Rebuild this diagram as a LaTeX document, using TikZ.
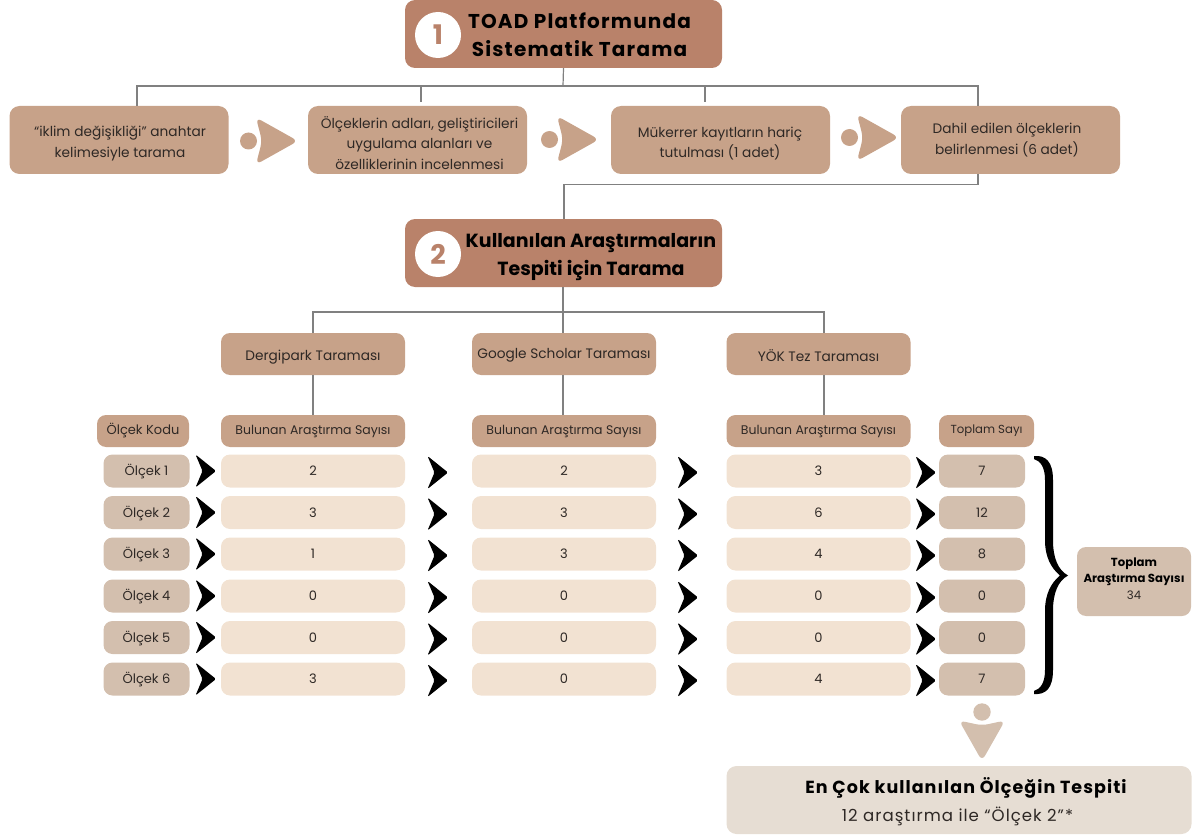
\documentclass[tikz,border=0pt]{standalone}
\usepackage{fontspec}
\setmainfont{Poppins}
\definecolor{hdr}{HTML}{B9826A}
\definecolor{stp}{HTML}{C7A289}
\definecolor{row}{HTML}{F2E2D2}
\definecolor{cod}{HTML}{D3BFAE}
\definecolor{fin}{HTML}{E6DDD3}
\definecolor{lin}{HTML}{808080}
\definecolor{txt}{HTML}{2E2825}
\newfontfamily\headfont[LetterSpace=6]{Poppins Bold}
\newfontfamily\headtight{Poppins Bold}
\newfontfamily\bodyspaced[LetterSpace=6]{Poppins}
\newcommand{\lowertext}[2]{\raisebox{-#1}[\height][\depth]{#2}}
\tikzset{
 x=1pt,y=-1pt,
 hdrbox/.style={fill=hdr,rounded corners=10pt,minimum width=317pt,minimum height=68pt,inner sep=0pt},
 stepbox/.style={fill=stp,rounded corners=10pt,minimum width=219pt,minimum height=68pt,inner sep=0pt},
 steptext/.style={inner sep=0pt,align=center,font=\fontsize{13.7}{20.5}\selectfont,text=txt},
 subbox/.style={fill=stp,rounded corners=9pt,minimum width=184pt,minimum height=42pt,inner sep=0pt,font=\fontsize{13.7}{15}\selectfont,text=txt},
 colhead/.style={fill=stp,rounded corners=9pt,minimum width=184pt,minimum height=32pt,inner sep=0pt,font=\fontsize{12.5}{14}\selectfont,text=txt},
 cell/.style={fill=row,rounded corners=9pt,minimum width=184pt,minimum height=33pt,inner sep=0pt,text height=9pt,text depth=0pt,font=\fontsize{13}{14}\selectfont,text=txt},
 codecell/.style={fill=cod,rounded corners=9pt,minimum width=86pt,minimum height=33pt,inner sep=0pt,text height=9pt,text depth=0pt,font=\fontsize{13}{14}\selectfont,text=txt},
 conn/.style={draw=lin,line width=1.2pt},
 numc/.style={circle,fill=white,minimum size=46pt,inner sep=0pt,font=\fontsize{27}{27}\selectfont\bfseries,text=hdr},
 chev/.style={fill=black,rounded corners=1.5pt},
 playarr/.style={fill=stp},
}
\begin{document}
\begin{tikzpicture}
\useasboundingbox (0,0) rectangle (1192,840);
\coordinate (t1) at (563,86);
\coordinate (t2) at (137,86);
\coordinate (t3) at (421,86);
\coordinate (t4) at (705,86);
\coordinate (t5) at (978,86);
\coordinate (e3) at (421,102);
\coordinate (e4) at (705,102);
\coordinate (u1) at (978,184.5);
\coordinate (u2) at (564,184.5);
% boxes
\node[hdrbox] (h1) at (563.5,34) {};
\node[hdrbox] (h2) at (563.5,253) {};
\node[numc] (n1) at (438,35) {1};
\node[numc] (n2) at (438,254) {2};
\node[inner sep=0pt,align=center,font=\fontsize{20}{28}\selectfont\headfont,text=black] (h1t) at (579.5,35) {TOAD Platformunda\\Sistematik Tarama};
\node[inner sep=0pt,align=center,font=\fontsize{19}{28}\selectfont\headtight,text=black] (h2t) at (591,257) {Kullanılan Araştırmaların\\Tespiti için Tarama};
\node[stepbox] (s1) at (119,140) {};
\node[stepbox] (s2) at (417.5,140) {};
\node[stepbox] (s3) at (720.5,140) {};
\node[stepbox] (s4) at (1010.5,140) {};
\node[steptext] (s1t) at (120,143.5) {“iklim değişikliği” anahtar\\kelimesiyle tarama};
\node[steptext] (s2t) at (419.5,143) {Ölçeklerin adları, geliştiricileri\\uygulama alanları ve\\özelliklerinin incelenmesi};
\node[steptext] (s3t) at (720,143.5) {Mükerrer kayıtların hariç\\tutulması (1 adet)};
\node[steptext] (s4t) at (1007,140) {Dahil edilen ölçeklerin\\belirlenmesi (6 adet)};
\draw[conn] (h1.south) -- (t1);
\draw[conn] (t3) -- (e3);
\draw[conn] (t4) -- (e4);
\draw[conn] (s1.north -| t2) -- (t2) -- (t5) -- (s4.north -| t5);
\draw[conn] (s4.south -| u1) -- (u1) -- (u2) -- (h2.north -| u2);
% play arrows
\foreach \x/\y in {240/141,541/139.5,841/137.5}{
 \fill[playarr] (\x+8.5,\y) circle (8.5);
 \fill[playarr,rounded corners=6pt] (\x+16,\y-23.5) -- (\x+22,\y) -- (\x+16,\y+23.5) -- (\x+58,\y) -- cycle;
}
% sub boxes
\node[subbox] (d1) at (313,354) {\lowertext{3pt}{Dergipark Taraması}};
\node[subbox] (d2) at (564,354) {\lowertext{1pt}{Google Scholar Taraması}};
\node[subbox] (d3) at (818.5,354) {\lowertext{2pt}{YÖK Tez Taraması}};
\node[colhead] (b1) at (313,431) {Bulunan Araştırma Sayısı};
\node[colhead] (b2) at (564,431) {Bulunan Araştırma Sayısı};
\node[colhead] (b3) at (818.5,431) {Bulunan Araştırma Sayısı};
\node[colhead,minimum width=92pt,font=\fontsize{13}{14}\selectfont] (kod) at (143,431) {Ölçek Kodu};
\node[colhead,minimum width=95pt,font=\fontsize{11.7}{14}\selectfont] (tsay) at (986.5,431) {Toplam Sayı};
\coordinate (j1) at (563,312);
\coordinate (j2) at (313,312);
\coordinate (j3) at (824,312);
\draw[conn] (h2.south -| j1) -- (j1);
\draw[conn] (d1 |- 0,333) -- (j2) -- (j3) -- (j3 |- 0,333);
\draw[conn] (j1) -- (j1 |- d2.north);
\draw[conn] (d2.south -| j1) -- (b2.north -| j1);
\draw[conn] (d1) -- (b1);
\draw[conn] (d3.south -| j3) -- (b3.north -| j3);
% rows
\foreach \i/\y/\a/\b/\c/\t in {1/471/2/2/3/7,2/512.5/3/3/6/12,3/554/1/3/4/8,4/596/0/0/0/0,5/637.5/0/0/0/0,6/679/3/0/4/7}{
 \node[codecell] (c\i) at (146.5,\y) {Ölçek \i};
 \node[cell] (ra\i) at (313,\y) {\a};
 \node[cell] (rb\i) at (564,\y) {\b};
 \node[cell] (rc\i) at (818.5,\y) {\c};
 \node[codecell] (rt\i) at (982,\y) {\t};
 \foreach \x/\d in {196/0,428/1.5,678/1.5,916/1.5}{
  \fill[chev] (\x-0.5,\y+\d-16.5) -- (\x+20,\y+\d) -- (\x-0.5,\y+\d+16.5) -- (\x+6.5,\y+\d) -- cycle;
 }
}
% brace
\fill[black] (1034,456) .. controls (1046,455) and (1053,462) .. (1053,480)
 -- (1053,540) .. controls (1053,558) and (1058,570) .. (1068,575.5)
 .. controls (1058,581) and (1053,593) .. (1053,611)
 -- (1053,670) .. controls (1053,688) and (1046,695) .. (1034,694)
 -- (1034,691) .. controls (1041,689) and (1045,682) .. (1045,670)
 -- (1045,611) .. controls (1045,594) and (1051,583) .. (1060,575.5)
 .. controls (1051,568) and (1045,557) .. (1045,540)
 -- (1045,480) .. controls (1045,468) and (1041,461) .. (1034,459) -- cycle;
\node[fill=cod,rounded corners=9pt,minimum width=114pt,minimum height=69pt,inner sep=0pt] (tot) at (1134,581.5) {};
\node[inner sep=0pt,align=center,font=\fontsize{11.7}{16.5}\selectfont,text=txt] (tott) at (1134,578.5) {\textcolor{black}{\textbf{Toplam}}\\\textcolor{black}{\textbf{Araştırma Sayısı}}\\34};
% down arrow
\fill[cod] (982,712) circle (8.7);
\fill[cod,rounded corners=6pt] (959,720.5) -- (982,725.5) -- (1005,720.5) -- (982,761) -- cycle;
% final
\node[fill=fin,rounded corners=10pt,minimum width=465pt,minimum height=68pt,inner sep=0pt] (fb) at (959,800) {};
\node[inner sep=0pt,text=black,font=\fontsize{17.5}{28}\selectfont\headfont] (fbt) at (966,788) {En Çok kullanılan Ölçeğin Tespiti};
\node[inner sep=0pt,text=txt,font=\fontsize{16.6}{28}\selectfont\bodyspaced] (fbs) at (957.5,816) {12 araştırma ile “Ölçek 2”*};
\end{tikzpicture}
\end{document}
